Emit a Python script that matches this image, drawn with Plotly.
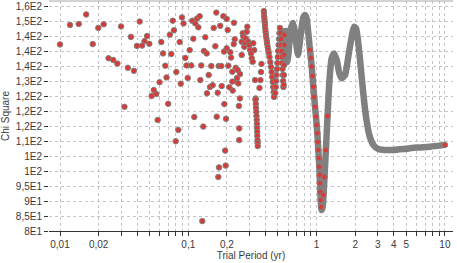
import plotly.graph_objects as go

# ---- data ----
# sparse short-period part of the periodogram
scatter_period = [
    0.0100, 0.01197, 0.0140, 0.0160, 0.0180, 0.0199, 0.0219, 0.0239, 0.0260, 0.0280,
    0.0299, 0.0318, 0.0338, 0.0357, 0.0377, 0.0398, 0.0418, 0.0437, 0.0456, 0.0477,
    0.0497, 0.0518, 0.0538, 0.0562, 0.0577, 0.0597, 0.0616, 0.0635, 0.0662, 0.0677,
    0.0697, 0.0718, 0.0737, 0.0757, 0.0773, 0.0798, 0.0807, 0.0836, 0.0857, 0.0873,
    0.0893, 0.0918, 0.0946, 0.0968, 0.0990, 0.1025, 0.1055, 0.1074, 0.1094, 0.1114,
    0.1134, 0.1169, 0.1197, 0.1227, 0.1241, 0.1263, 0.1285, 0.1309, 0.1326, 0.1357,
    0.1391, 0.1399, 0.1442, 0.1476, 0.1511, 0.1549, 0.1577, 0.1624, 0.1653, 0.1665,
    0.1695, 0.1714, 0.1725, 0.1735, 0.1775, 0.1807, 0.1820, 0.1875, 0.1899, 0.1910,
    0.1937, 0.1956, 0.1968, 0.1992, 0.1992, 0.2028, 0.2051, 0.2088, 0.2126, 0.2153,
    0.2204, 0.2204, 0.2218, 0.2259, 0.2271, 0.2300, 0.2342, 0.2366, 0.2396, 0.2427,
    0.2454, 0.2480, 0.2494, 0.2494, 0.2525, 0.2529, 0.2607, 0.2607, 0.2655, 0.2684,
    0.2732, 0.2767, 0.2802, 0.2852, 0.2884, 0.2936, 0.2988, 0.3026, 0.3082, 0.3121,
    0.3177, 0.3210, 0.3268, 0.3311, 0.3352,
]
scatter_chi = [
    142.2, 148.7, 149.0, 152.2, 142.3, 147.7, 148.9, 137.6, 137.0, 135.8,
    148.2, 121.4, 134.4, 144.7, 133.4, 141.7, 149.8, 141.8, 143.3, 145.0,
    142.4, 125.0, 127.0, 125.7, 117.0, 129.6, 143.0, 139.2, 135.1, 131.2,
    122.4, 145.4, 139.0, 150.1, 146.9, 109.9, 133.0, 113.7, 143.0, 129.1,
    151.2, 149.2, 137.7, 135.2, 131.0, 140.3, 135.2, 150.1, 144.1, 118.0,
    149.2, 150.8, 147.9, 151.6, 130.3, 135.2, 83.3, 114.8, 140.0, 144.6,
    139.2, 125.9, 132.0, 128.0, 135.0, 128.6, 147.7, 141.6, 152.8, 118.1,
    126.1, 98.0, 135.0, 101.2, 148.4, 135.0, 128.3, 151.6, 139.8, 122.3,
    106.8, 101.8, 117.4, 150.7, 140.9, 147.0, 135.1, 127.9, 139.6, 137.8,
    129.8, 133.1, 126.8, 142.3, 149.4, 143.9, 134.4, 129.9, 131.0, 133.7,
    129.2, 121.7, 114.2, 110.3, 124.2, 132.3, 138.7, 143.1, 145.9, 144.8,
    141.4, 142.6, 144.2, 146.4, 148.1, 143.1, 142.0, 140.3, 139.2, 137.6,
    136.4, 142.6, 140.3, 130.3, 124.2,
]

# denser columns of points between 0.33 and 0.56 yr
column_period = [
    0.3341, 0.3359, 0.3371, 0.3389, 0.3401, 0.3413, 0.3426, 0.3432, 0.3444, 0.3450,
    0.3463, 0.3469, 0.3475, 0.3589, 0.3652, 0.3685, 0.3718,
    0.3877, 0.3890, 0.3912, 0.3926, 0.3947, 0.3961, 0.3983, 0.4005, 0.4033, 0.4062,
    0.4091, 0.4121, 0.4158, 0.4196, 0.4233,
    0.4295, 0.4357, 0.4412, 0.4460, 0.4507, 0.4548, 0.4589, 0.4622, 0.4656,
    0.4766, 0.4808, 0.4843, 0.4878, 0.4913, 0.4949, 0.4985, 0.5020, 0.5056, 0.5093,
    0.5130, 0.5176,
    0.5241, 0.5278, 0.5307, 0.5336, 0.5365, 0.5394, 0.5423, 0.5452, 0.5482, 0.5512,
    0.5542, 0.5561, 0.5581, 0.5591, 0.5601, 0.5611,
]
column_chi = [
    123.7, 122.3, 121.0, 119.7, 118.3, 117.0, 115.7, 114.3, 113.0, 111.7,
    110.3, 109.3, 108.3, 127.7, 130.3, 133.0, 135.7,
    153.3, 152.3, 151.3, 150.3, 149.3, 148.3, 147.3, 146.3, 145.3, 144.3,
    143.3, 142.3, 141.3, 140.3, 139.3,
    138.0, 136.3, 134.7, 133.0, 131.3, 129.7, 128.0, 126.3, 124.7,
    126.0, 128.0, 130.0, 132.0, 134.0, 136.0, 138.0, 140.0, 142.0, 144.0,
    146.0, 147.7,
    146.0, 144.0, 142.0, 140.0, 138.0, 136.0, 134.0, 132.0, 130.0, 128.0,
    128.7, 132.0, 135.3, 138.7, 142.0, 145.3,
]

# long-period part, where the points merge into a continuous band
curve_period = [
    0.5620, 0.5702, 0.5796, 0.5900, 0.6016, 0.6169, 0.6338, 0.655, 0.679, 0.697,
    0.716, 0.736, 0.763, 0.790, 0.812, 0.834, 0.862, 0.888, 0.916, 0.943,
    0.972, 0.989, 1.013, 1.031, 1.050, 1.063, 1.076, 1.096, 1.116, 1.142,
    1.163, 1.199, 1.234, 1.272, 1.311, 1.367, 1.435, 1.503, 1.569, 1.665,
    1.766, 1.877, 1.957, 2.028, 2.114, 2.207, 2.312, 2.427, 2.575, 2.767,
    3.027, 3.413, 3.961, 4.741, 6.028, 7.655, 10.0,
]
curve_chi = [
    147.7, 143.7, 138.7, 136.3, 138.7, 143.7, 147.7, 149.3, 146.3, 142.0,
    138.7, 142.0, 147.7, 151.3, 152.0, 151.0, 145.9, 140.3, 134.8, 128.1,
    121.4, 118.1, 112.6, 107.0, 101.4, 95.9, 90.3, 87.0, 88.1, 94.8,
    101.4, 112.6, 123.7, 132.6, 137.6, 139.2, 137.0, 132.6, 130.9, 132.0,
    138.1, 144.8, 148.1, 147.6, 142.6, 134.8, 125.9, 118.1, 112.0, 108.7,
    107.3, 107.0, 107.0, 107.3, 107.8, 108.1, 108.7,
]

# individual points still visible inside the band (steep dip near 1 yr, last point)
marked_period = [
    0.888, 0.901, 0.916, 0.929, 0.943, 0.958, 0.972, 0.989, 1.000, 1.013,
    1.022, 1.031, 1.040, 1.050, 1.057, 1.063, 1.071, 1.076, 1.086, 1.128,
    1.152, 1.180, 1.216, 10.0,
]
marked_chi = [
    140.3, 137.7, 134.8, 131.7, 128.1, 124.7, 121.4, 118.1, 115.3, 112.6,
    109.7, 107.0, 104.3, 101.4, 98.7, 95.9, 93.0, 90.3, 88.0, 92.0,
    98.0, 107.0, 118.3, 108.7,
]

x_tick_values = [0.01, 0.02, 0.03, 0.04, 0.05, 0.06, 0.07, 0.08, 0.09,
                 0.1, 0.2, 0.3, 0.4, 0.5, 0.6, 0.7, 0.8, 0.9,
                 1, 2, 3, 4, 5, 6, 7, 8, 9, 10]
x_tick_labels = ["0,01", "0,02", "", "", "", "", "", "", "",
                 "0,1", "0,2", "", "", "", "", "", "", "",
                 "1", "2", "3", "4", "5", "", "", "", "", "10"]
y_tick_values = [80, 85, 90, 95, 100, 105, 110, 115, 120, 125, 130, 135, 140, 145, 150, 155]
y_tick_labels = ["8E1", "8,5E1", "9E1", "9,5E1", "1E2", "1E2", "1,1E2", "1,2E2",
                 "1,2E2", "1,2E2", "1,3E2", "1,4E2", "1,4E2", "1,4E2", "1,5E2", "1,6E2"]

RED = "#d93a35"
GREY = "#808080"
marker_style = dict(size=5.5, color=RED, line=dict(color=GREY, width=1))

fig = go.Figure()
fig.add_trace(go.Scatter(
    x=curve_period, y=curve_chi, mode="lines",
    line=dict(color=GREY, width=6.5, shape="spline", smoothing=0.6),
    hoverinfo="skip"))
fig.add_trace(go.Scatter(
    x=scatter_period + column_period, y=scatter_chi + column_chi,
    mode="markers", marker=marker_style))
fig.add_trace(go.Scatter(
    x=marked_period, y=marked_chi, mode="markers", marker=marker_style))

fig.update_layout(
    width=457, height=263,
    margin=dict(l=49, r=4, t=1, b=32),
    paper_bgcolor="white", plot_bgcolor="white",
    showlegend=False,
    font=dict(family="Liberation Sans, Arial, sans-serif", size=10, color="#3a3a3a"),
)
fig.update_xaxes(
    type="log", range=[-2.0857, 1.0631],
    tickvals=x_tick_values, ticktext=x_tick_labels,
    ticks="outside", ticklen=4, tickcolor="#333333", tickwidth=1,
    showline=True, linecolor="#333333", linewidth=1,
    showgrid=True, gridcolor="#c4c4c4", griddash="dot", gridwidth=1,
    zeroline=False,
    title=dict(text="Trial Period (yr)", standoff=2, font=dict(size=10)),
)
fig.update_yaxes(
    range=[80, 156.67],
    tickvals=y_tick_values, ticktext=y_tick_labels,
    ticks="outside", ticklen=4, tickcolor="#333333", tickwidth=1,
    showline=False,
    showgrid=True, gridcolor="#c4c4c4", griddash="dot", gridwidth=1,
    zeroline=False,
    title=dict(text="Chi Square", standoff=5, font=dict(size=10)),
)
fig.add_shape(type="line", xref="paper", yref="paper", x0=0, x1=1, y0=1, y1=1,
              line=dict(color="#a8a8a8", width=1))

fig.write_html("out.html", config={"displayModeBar": False},
               post_script="document.body.style.margin='0';document.body.style.overflow='hidden';")
